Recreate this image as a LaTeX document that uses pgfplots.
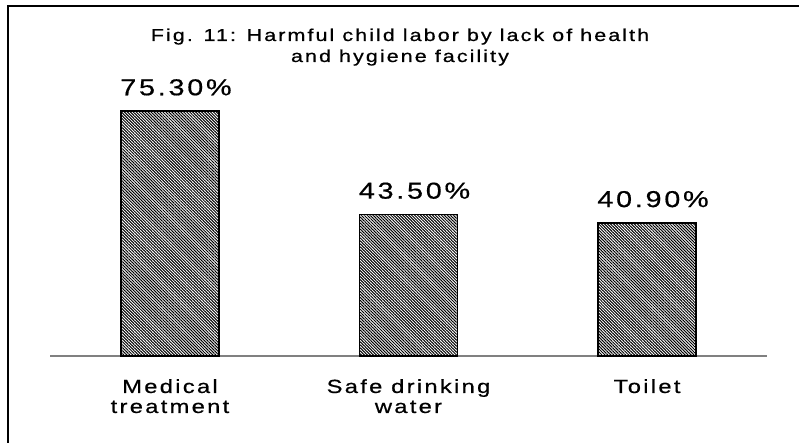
\documentclass[border=0pt]{standalone}
\usepackage{fontspec}
\setmainfont{Liberation Sans}
\newfontfamily\wide[FakeStretch=1.25,LetterSpace=12,FakeBold=0.6]{Liberation Sans}
\usepackage{pgfplots}
\pgfplotsset{compat=1.18}
\usetikzlibrary{patterns.meta}
\definecolor{axisgray}{RGB}{128,128,128}
\begin{document}
\begin{tikzpicture}
\path[use as bounding box] (-50pt,-86pt) rectangle (749pt,356pt);
% frame (cut off at right and bottom)
\draw[line width=2pt] (-42pt,-90pt) -- (-42pt,350pt) -- (760pt,350pt);
\begin{axis}[
    at={(0pt,0pt)}, anchor=south west,
    scale only axis,
    width=717pt, height=325pt,
    xmin=-0.503, xmax=2.503,
    ymin=0, ymax=100,
    axis y line=none,
    axis x line=bottom,
    x axis line style={axisgray, line width=1.6pt, -},
    xtick=data,
    xticklabels={{Medical\\treatment},{Safe drinking\\water},{Toilet}},
    xticklabel style={font=\wide\fontsize{19}{20}\selectfont, align=center, anchor=north, inner sep=0pt, yshift=-23pt},
    major tick length=0pt,
    ybar, bar width=98pt,
    nodes near coords={\pgfmathprintnumber[fixed,fixed zerofill,precision=2,assume math mode=true]{\pgfplotspointmeta}\%},
    nodes near coords style={font=\wide\fontsize{23}{24}\selectfont, anchor=base, yshift=16pt, xshift=6pt, inner sep=0pt},
    clip=false,
]
\addplot[draw=black, line width=1.6pt,
    pattern={Lines[angle=-45, distance=2.1pt, line width=1pt]}, pattern color=black]
    coordinates {(0,75.3) (1,43.5) (2,40.9)};
\end{axis}
\node[font=\wide\fontsize{17.2}{16}\selectfont, anchor=base] at (350pt,315pt) {Fig. 11: Harmful child labor by lack of health};
\node[font=\wide\fontsize{17.2}{16}\selectfont, anchor=base] at (350pt,294pt) {and hygiene facility};
\end{tikzpicture}
\end{document}
